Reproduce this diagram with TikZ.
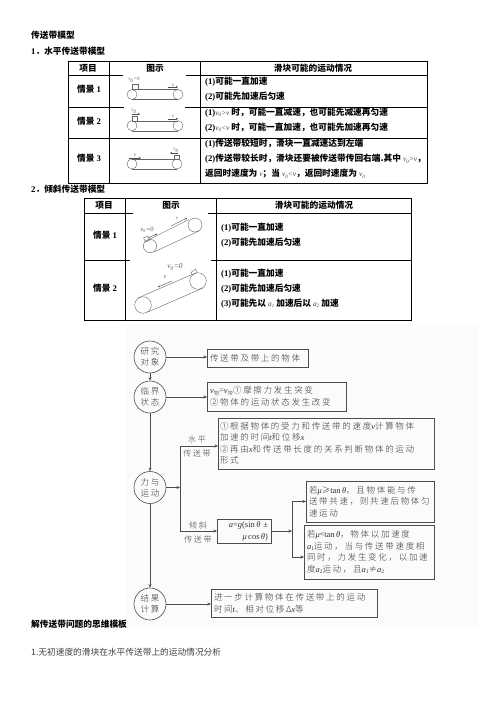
\documentclass[tikz,border=0pt]{standalone}
\usepackage{fontspec}
\setmainfont{Liberation Serif}
\newfontfamily\cjk{Noto Sans CJK SC}
\newfontfamily\cjks[LetterSpace=20]{Noto Sans CJK SC Light}
\usetikzlibrary{arrows.meta}
\newcommand\mi[1]{{\rmfamily\itshape #1}}
\newcommand\mr[1]{{\rmfamily #1}}
\newcommand\tv[1]{{\rmfamily\mdseries\itshape\fontsize{7.4}{8}\selectfont\color{black!75}#1}}
\newcommand\ts[1]{\raisebox{-0.25ex}{\rmfamily\mdseries\itshape\fontsize{5}{6}\selectfont\color{black!75}#1}}
\newcommand\ab[1]{\raisebox{-0.25ex}{\fontsize{5.5}{6}\selectfont #1}}
\tikzset{
 tb/.style={line width=0.8pt,black},
 bh/.style={font=\cjk\bfseries\fontsize{8.7}{10}\selectfont,inner sep=0,anchor=center},
 bl/.style={font=\cjk\bfseries\fontsize{8.7}{10}\selectfont,inner sep=0,anchor=west},
 it/.style={font=\rmfamily\itshape\fontsize{5}{6}\selectfont,inner sep=0,text=black!65},
 fbox/.style={draw=black!70,line width=0.6pt,inner xsep=3pt,inner ysep=0pt,outer sep=0pt,anchor=north west,align=left,text=black!80,font=\cjks\fontsize{8.5}{11.7}\selectfont},
 circ/.style={draw=black!70,line width=0.6pt,circle,minimum size=32pt,inner sep=0,align=center,text=black!80,font=\cjks\fontsize{8.5}{11}\selectfont},
 con/.style={draw=black!70,line width=0.6pt,-{Stealth[length=3.5pt,width=3pt]}},
 lab/.style={inner sep=0,text=black!75,font=\cjks\fontsize{8}{9}\selectfont},
 belt/.style={draw=black!60,line width=0.4pt},
 tip/.style={draw=black!70,line width=0.4pt,-{Stealth[length=2pt,width=2pt]}},
}
\begin{document}
\begin{tikzpicture}[x=1pt,y=-1pt]
\useasboundingbox[fill=white] (0,0) rectangle (496,702);
% flowchart background
\fill[black!1.5] (125,325) rectangle (478,628);
% headings
\node[bl] (h0) at (31,35) {传送带模型};
\node[bl] (h1) at (31,51) {\mr{1}．水平传送带模型};
\node[bl] (h2) at (31,189) {\mr{2}．倾斜传送带模型};
% table 1
\draw[tb] (68,61) rectangle (427,183);
\draw[tb] (109,61) -- (109,183);
\draw[tb] (200,61) -- (200,183);
\draw[tb] (68,75) -- (123,75) (186,75) -- (427,75);
\draw[tb] (68,107) -- (124,107) (185,107) -- (427,107);
\draw[tb] (68,138) -- (427,138);
\node[bh] (t1a) at (88,68) {项目};
\node[bh] (t1b) at (155,68) {图示};
\node[bh] (t1c) at (313,68) {滑块可能的运动情况};
\node[bh] (t1d) at (89,89) {情景 \mr{1}};
\node[bh] (t1e) at (89,121) {情景 \mr{2}};
\node[bh] (t1f) at (89,158) {情景 \mr{3}};
\node[bl] (a1) at (205,82) {\mr{(1)}可能一直加速};
\node[bl] (a2) at (205,97) {\mr{(2)}可能先加速后匀速};
\node[bl] (a3) at (205,113) {\mr{(1)}\tv{v}\ts{0}\tv{>v} 时，可能一直减速，也可能先减速再匀速};
\node[bl] (a4) at (205,128) {\mr{(2)}\tv{v}\ts{0}\tv{<v} 时，可能一直加速，也可能先加速再匀速};
\node[bl] (a5) at (205,144) {\mr{(1)}传送带较短时，滑块一直减速达到左端};
\node[bl] (a6) at (205,159) {\mr{(2)}传送带较长时，滑块还要被传送带传回右端.其中 \tv{v}\ts{0}\tv{>v}，};
\node[bl] (a7) at (205,174) {返回时速度为 \tv{v}；当 \tv{v}\ts{0}\tv{<v}，返回时速度为 \tv{v}\ts{0}};
% belts horizontal
\foreach \xa/\xb/\yy in {132/178/94.5, 132/178/125.7, 132/177/164}{
 \draw[belt] (\xa,\yy) circle (5pt) (\xb,\yy) circle (5pt);
 \draw[belt] (\xa,\yy-5) -- (\xb,\yy-5) (\xa,\yy+5) -- (\xb,\yy+5);
}
\draw[belt] (132,84) rectangle (138,89.5);
\node[it] (s1) at (134,80) {\textit{v}\textsubscript{0}=0};
\draw[tip] (168,87) -- (178,87);
\node[it] (s2) at (173,85) {\textit{v}};
\draw[belt] (132,116) rectangle (137,120.7);
\draw[tip] (132,114) -- (140,114);
\node[it] (s3) at (134,111.5) {\textit{v}\textsubscript{0}};
\draw[tip] (168,118.7) -- (178,118.7);
\node[it] (s4) at (173,116) {\textit{v}};
\draw[belt] (174,155) rectangle (179,159);
\draw[tip] (178,153) -- (170,153);
\draw[tip] (129,158) -- (141,158);
\node[it] (s5) at (135,155) {\textit{v}};
\node[it] (s6) at (176,150.5) {\textit{v}\textsubscript{0}};
% table 2
\draw[tb] (84,198) rectangle (411,320);
\draw[tb] (125,198) -- (125,320);
\draw[tb] (216,198) -- (216,320);
\draw[tb] (84,213) -- (133,213) (208,213) -- (411,213);
\draw[tb] (84,260) -- (130,260) (211,260) -- (411,260);
\node[bh] (t2a) at (104,205) {项目};
\node[bh] (t2b) at (171,205) {图示};
\node[bh] (t2c) at (314,205) {滑块可能的运动情况};
\node[bh] (t2d) at (105,235) {情景 \mr{1}};
\node[bh] (t2e) at (105,288.5) {情景 \mr{2}};
\node[bl] (b1) at (221,227.5) {\mr{(1)}可能一直加速};
\node[bl] (b2) at (221,242.5) {\mr{(2)}可能先加速后匀速};
\node[bl] (b3) at (221,274) {\mr{(1)}可能一直加速};
\node[bl] (b4) at (221,289) {\mr{(2)}可能先加速后匀速};
\node[bl] (b5) at (221,304) {\mr{(3)}可能先以 \tv{a}\ts{1} 加速后以 \tv{a}\ts{2} 加速};
% inclined belts
\draw[belt] (150,246) circle (6.7pt) (195,225) circle (7pt);
\draw[belt] (145,241.5) -- (189,219.5) (154,252) -- (199,231);
\draw[belt] (143.5,238) -- (148,236) -- (150,240) -- (145.5,242) -- cycle;
\draw[tip] (148,238) -- (157,234);
\draw[tip] (171,226) -- (187,218);
\node[it,font=\rmfamily\itshape\fontsize{6.5}{7}\selectfont] (s7) at (147,230) {\textit{v}\textsubscript{0}=0};
\node[it] (s8) at (177,218) {\textit{v}};
\draw[belt] (143,305) circle (8.3pt) (198,281) circle (8.3pt);
\draw[belt] (138,298) -- (192,274.5) (148,312) -- (203,288);
\draw[belt] (191,272.5) -- (195.5,269) -- (197,272) -- (193,275) -- cycle;
\draw[tip] (172,281) -- (158,287);
\node[it,font=\rmfamily\itshape\fontsize{7.5}{8}\selectfont] (s9) at (175,267) {\textit{v}\textsubscript{0}=0};
\node[it,font=\rmfamily\itshape\fontsize{6}{7}\selectfont] (s10) at (165,277) {\textit{v}};
% flowchart
\node[circ] (c1) at (150,357) {研究\\对象};
\node[circ] (c2) at (150,397) {临界\\状态};
\node[circ] (c3) at (150,487.5) {力与\\运动};
\node[circ] (c4) at (150,604) {结果\\计算};
\node[fbox,text width=95pt,minimum height=18pt] (f1) at (207,349) {传送带及带上的物体};
\node[fbox,text width=133pt,minimum height=29pt] (f2) at (207,382) {\mi{v}\ab{物}=\mi{v}\ab{带}①摩擦力发生突变\\②物体的运动状态发生改变};
\node[fbox,text width=212pt,inner xsep=2pt,minimum height=51pt,font=\cjks\fontsize{8.5}{11.5}\selectfont] (f3) at (218,418) {①根据物体的受力和传送带的速度\mi{v}计算物体\\加速的时间\mi{t}和位移\mi{x}\\②再由\mi{x}和传送带长度的关系判断物体的运动\\形式};
\node[fbox,text width=122pt,minimum height=41pt] (f4) at (306,481) {若\mi{μ}≥\mr{tan}\,\mi{θ}，且物体能与传\\送带共速，则共速后物体匀\\速运动};
\node[fbox,text width=124pt,minimum height=54pt,font=\cjks\fontsize{8.5}{11.9}\selectfont] (f5) at (304,525) {若\mi{μ}<\mr{tan}\,\mi{θ}，物体以加速度\\\mi{a}\ab{\mr{1}}运动，当与传送带速度相\\同时，力发生变化，以加速\\度\mi{a}\ab{\mr{2}}运动，且\mi{a}\ab{\mr{1}}≠\mi{a}\ab{\mr{2}}};
\node[fbox,text width=48pt,minimum height=24pt,font=\rmfamily\fontsize{8.5}{12}\selectfont,align=right] (f6) at (217,519) {\mi{a}=\mi{g}(sin\,\mi{θ} ±\\\mi{μ}\,cos\,\mi{θ})};
\node[fbox,text width=160pt,minimum height=28pt] (f7) at (211,589) {进一步计算物体在传送带上的运动\\时间\mi{t}、相对位移Δ\mi{x}等};
\node[lab] (l1) at (197,439) {水平};
\node[lab] (l2) at (197,453) {传送带};
\node[lab] (l3) at (198,525) {倾斜};
\node[lab] (l4) at (198,539) {传送带};
\coordinate (j1) at (180,487.5);
\coordinate (j2) at (292,531);
\draw[con] (c1.east) -- (c1.east -| f1.west);
\draw[con] (c2.east) -- (c2.east -| f2.west);
\draw[con] (c1) -- (c2);
\draw[con] (c2) -- (c3);
\draw[con] (c3) -- (c4);
\draw[con] (c4.east) -- (c4.east -| f7.west);
\draw[con] (c3) -- (j1);
\draw[con] (j1) |- ([yshift=-2.5pt]f3.west);
\draw[con] (j1) |- (f6.west);
\draw[con] (f6) -- (j2);
\draw[con] (j2) |- (f4.west);
\draw[con] (j2) |- ([yshift=-5pt]f5.west);
% footer
\node[bl] (foot) at (31,624) {解传送带问题的思维模板};
\node[inner sep=0,anchor=west,text=black!75,font=\cjk\fontsize{8.7}{10}\selectfont] (foot2) at (31,652) {1.无初速度的滑块在水平传送带上的运动情况分析};
\end{tikzpicture}
\end{document}
